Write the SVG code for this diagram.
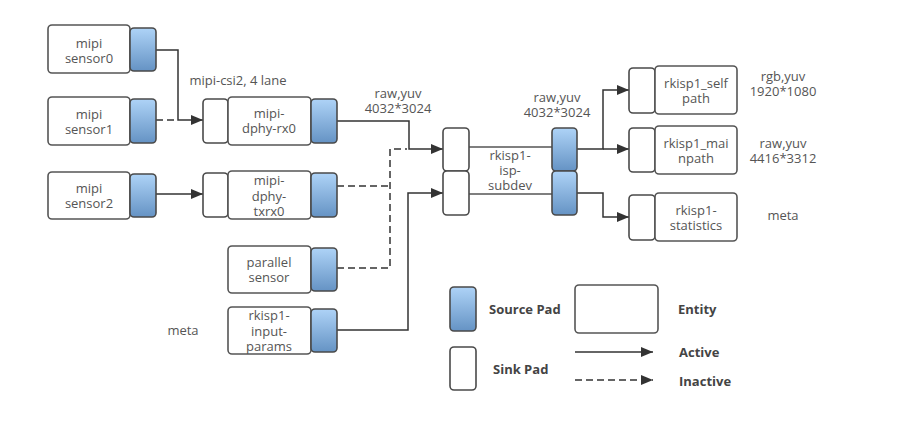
<svg xmlns="http://www.w3.org/2000/svg" width="916" height="424" viewBox="0 0 916 424">
<defs>
<linearGradient id="pg" x1="0" y1="0" x2="0" y2="1">
<stop offset="0" stop-color="#aed3f7"/>
<stop offset="1" stop-color="#6593c4"/>
</linearGradient>
<marker id="ah" markerWidth="12" markerHeight="10" refX="12" refY="5" orient="auto" markerUnits="userSpaceOnUse">
<path d="M0,0 L12,5 L0,10 Z" fill="#333"/>
</marker>
<style>
.ent{fill:#fff;stroke:#555;stroke-width:1.6}
.src{fill:url(#pg);stroke:#4a4a4a;stroke-width:1.6}
.snk{fill:#fff;stroke:#4a4a4a;stroke-width:1.6}
.ln{fill:none;stroke:#333;stroke-width:1.5}
.dl{fill:none;stroke:#333;stroke-width:1.5;stroke-dasharray:7,4}
.t{font-family:"Open Sans","DejaVu Sans",sans-serif;font-size:13px;fill:#555;text-anchor:middle;dominant-baseline:central}
.b{font-family:"Open Sans","DejaVu Sans",sans-serif;font-size:13px;font-weight:bold;fill:#444;dominant-baseline:central}
</style>
</defs>
<rect width="916" height="424" fill="#fff"/>

<g id="connectors">
<path class="ln" d="M156,50 H178 V120 H203" marker-end="url(#ah)"/>
<path class="dl" d="M156,120 H176"/>
<path class="ln" d="M156,194 H203" marker-end="url(#ah)"/>
<path class="ln" d="M337,121 H409 V149 H443" marker-end="url(#ah)"/>
<path class="dl" d="M337,186 H390"/>
<path class="dl" d="M337,268 H390 V149 H407"/>
<path class="ln" d="M337,330 H408 V193 H443" marker-end="url(#ah)"/>
<path class="ln" d="M577,149 H603 V90 H629" marker-end="url(#ah)"/>
<path class="ln" d="M603,149 H629" marker-end="url(#ah)"/>
<path class="ln" d="M577,193 H603 V217 H629" marker-end="url(#ah)"/>
</g>

<g id="mipi-sensor0">
<rect class="ent" x="48" y="25" width="82" height="48" rx="4"/>
<rect class="src" x="130" y="28" width="26" height="43" rx="4"/>
<text class="t" x="89" y="43">mipi</text>
<text class="t" x="89" y="58">sensor0</text>
</g>
<g id="mipi-sensor1">
<rect class="ent" x="48" y="97" width="82" height="48" rx="4"/>
<rect class="src" x="130" y="99" width="26" height="44" rx="4"/>
<text class="t" x="89" y="114">mipi</text>
<text class="t" x="89" y="129">sensor1</text>
</g>
<g id="mipi-sensor2">
<rect class="ent" x="48" y="172" width="82" height="47" rx="4"/>
<rect class="src" x="130" y="174" width="26" height="43" rx="4"/>
<text class="t" x="89" y="188">mipi</text>
<text class="t" x="89" y="203">sensor2</text>
</g>

<text class="t" x="238" y="80">mipi-csi2, 4 lane</text>

<g id="mipi-dphy-rx0">
<rect class="snk" x="203" y="99" width="25" height="44" rx="4"/>
<rect class="ent" x="228" y="97" width="83" height="48" rx="4"/>
<rect class="src" x="311" y="99" width="26" height="44" rx="4"/>
<text class="t" x="269" y="113">mipi-</text>
<text class="t" x="269" y="128">dphy-rx0</text>
</g>
<g id="mipi-dphy-txrx0">
<rect class="snk" x="203" y="173" width="25" height="44" rx="4"/>
<rect class="ent" x="228" y="171" width="83" height="48" rx="4"/>
<rect class="src" x="311" y="173" width="26" height="44" rx="4"/>
<text class="t" x="269" y="180">mipi-</text>
<text class="t" x="269" y="196">dphy-</text>
<text class="t" x="269" y="211">txrx0</text>
</g>
<g id="parallel-sensor">
<rect class="ent" x="228" y="246" width="83" height="47" rx="4"/>
<rect class="src" x="311" y="248" width="26" height="43" rx="4"/>
<text class="t" x="269" y="262">parallel</text>
<text class="t" x="269" y="277">sensor</text>
</g>
<g id="rkisp1-input-params">
<rect class="ent" x="228" y="307" width="83" height="47" rx="4"/>
<rect class="src" x="311" y="309" width="26" height="43" rx="4"/>
<text class="t" x="269" y="315">rkisp1-</text>
<text class="t" x="269" y="331">input-</text>
<text class="t" x="269" y="346">params</text>
</g>
<text class="t" x="183" y="330">meta</text>

<text class="t" x="398" y="93">raw,yuv</text>
<text class="t" x="398" y="108">4032*3024</text>

<g id="rkisp1-isp-subdev">
<rect class="ent" x="462" y="147" width="96" height="47" rx="2"/>
<rect class="snk" x="443" y="128" width="26" height="43" rx="4"/>
<rect class="snk" x="443" y="171" width="26" height="44" rx="4"/>
<rect class="src" x="552" y="128" width="25" height="43" rx="4"/>
<rect class="src" x="552" y="171" width="25" height="44" rx="4"/>
<text class="t" x="510" y="155">rkisp1-</text>
<text class="t" x="510" y="170">isp-</text>
<text class="t" x="510" y="185">subdev</text>
</g>
<text class="t" x="557" y="97">raw,yuv</text>
<text class="t" x="557" y="112">4032*3024</text>

<g id="rkisp1_selfpath">
<rect class="snk" x="629" y="68" width="26" height="45" rx="4"/>
<rect class="ent" x="655" y="66" width="82" height="48" rx="4"/>
<text class="t" x="696" y="83">rkisp1_self</text>
<text class="t" x="696" y="98">path</text>
</g>
<g id="rkisp1_mainpath">
<rect class="snk" x="629" y="128" width="26" height="44" rx="4"/>
<rect class="ent" x="655" y="126" width="82" height="48" rx="4"/>
<text class="t" x="696" y="143">rkisp1_mai</text>
<text class="t" x="696" y="158">npath</text>
</g>
<g id="rkisp1-statistics">
<rect class="snk" x="629" y="195" width="26" height="45" rx="4"/>
<rect class="ent" x="655" y="193" width="82" height="48" rx="4"/>
<text class="t" x="696" y="210">rkisp1-</text>
<text class="t" x="696" y="225">statistics</text>
</g>
<text class="t" x="783" y="76">rgb,yuv</text>
<text class="t" x="783" y="91">1920*1080</text>
<text class="t" x="783" y="143">raw,yuv</text>
<text class="t" x="783" y="158">4416*3312</text>
<text class="t" x="783" y="215">meta</text>

<g id="legend">
<rect class="src" x="450" y="287" width="26" height="44" rx="4"/>
<text class="b" x="489" y="309">Source Pad</text>
<rect class="ent" x="575" y="285" width="83" height="48" rx="4"/>
<text class="b" x="678" y="309">Entity</text>
<rect class="snk" x="450" y="347" width="26" height="43" rx="4"/>
<text class="b" x="493" y="369">Sink Pad</text>
<path class="ln" d="M575,352 H653" marker-end="url(#ah)"/>
<text class="b" x="679" y="352">Active</text>
<path class="dl" d="M575,380 H653" marker-end="url(#ah)"/>
<text class="b" x="679" y="381">Inactive</text>
</g>
</svg>
